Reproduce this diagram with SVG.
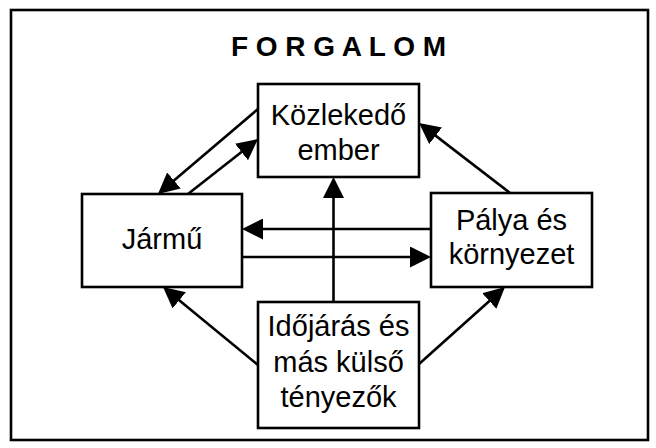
<svg xmlns="http://www.w3.org/2000/svg" width="656" height="448" viewBox="0 0 656 448">
<style>
.box{fill:#fff;stroke:#000;stroke-width:2.6}
.t{font-family:"Liberation Sans",Arial,Helvetica,sans-serif;font-size:29px;fill:#000;text-anchor:middle}
.title{font-family:"Liberation Sans",Arial,Helvetica,sans-serif;font-size:28px;font-weight:bold;fill:#000;text-anchor:middle}
.c{fill:none;stroke:#000;stroke-width:2.6;marker-end:url(#ah)}
</style>
<defs>
<marker id="ah" markerUnits="userSpaceOnUse" markerWidth="21" markerHeight="21" refX="17" refY="10.5" orient="auto" viewBox="0 0 21 21">
<path d="M0,0 L21,10.5 L0,21 z" fill="#000"/>
</marker>
</defs>
<rect x="11" y="10" width="637" height="430" fill="#fff" stroke="#000" stroke-width="2.6"/>
<text class="title" x="338.5" y="56">F O R G A L O M</text>
<g id="connectors">
<path class="c" d="M258,109 L161,191.4"/>
<path class="c" d="M188,194 L254.9,141.5"/>
<path class="c" d="M510,193 L422.2,125.4"/>
<path class="c" d="M431,229 L246,229"/>
<path class="c" d="M242,257 L427,257"/>
<path class="c" d="M333.5,302 L333.5,181"/>
<path class="c" d="M258,365 L166.1,289.5"/>
<path class="c" d="M419,364 L502,289.7"/>
</g>
<g id="kozlekedo">
<rect class="box" x="258" y="84" width="161" height="93"/>
<text class="t" x="338.5" y="125">Közlekedő</text>
<text class="t" x="338.5" y="160">ember</text>
</g>
<g id="jarmu">
<rect class="box" x="82" y="194" width="160" height="93"/>
<text class="t" x="162" y="249">Jármű</text>
</g>
<g id="palya">
<rect class="box" x="431" y="193" width="161" height="94"/>
<text class="t" x="511.5" y="230">Pálya és</text>
<text class="t" x="511.5" y="264">környezet</text>
</g>
<g id="idojaras">
<rect class="box" x="258" y="302" width="161" height="126"/>
<text class="t" x="338.5" y="336">Időjárás és</text>
<text class="t" x="338.5" y="372">más külső</text>
<text class="t" x="338.5" y="407">tényezők</text>
</g>
</svg>
